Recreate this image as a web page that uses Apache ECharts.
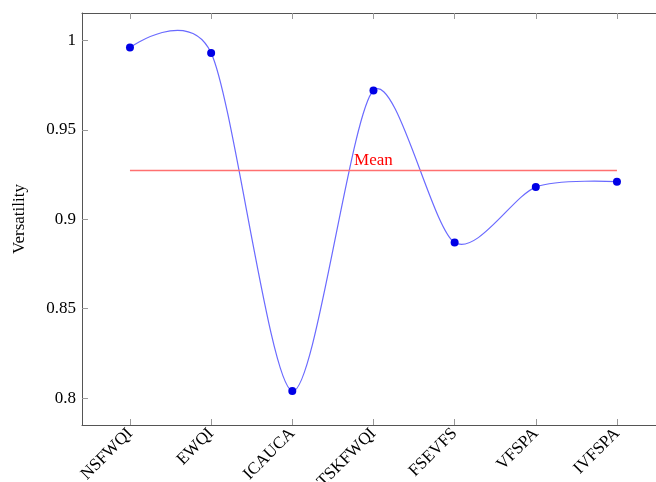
<!DOCTYPE html>
<html>
<head>
<meta charset="utf-8">
<script src="https://cdn.jsdelivr.net/npm/echarts@6/dist/echarts.min.js"></script>
<style>
  html, body { margin: 0; padding: 0; background: #fff; }
  #chart { width: 656px; height: 482px; }
</style>
</head>
<body>
<div id="chart"></div>
<script>
// Versatility score of each water quality index
const categories = ['NSFWQI', 'EWQI', 'ICAUCA', 'TSKFWQI', 'FSEVFS', 'VFSPA', 'IVFSPA'];
const versatility = [0.996, 0.993, 0.804, 0.972, 0.887, 0.918, 0.921];
const yTicks = [0.8, 0.85, 0.9, 0.95, 1];

const meanValue = versatility.reduce((a, b) => a + b, 0) / versatility.length;
const positions = categories.map((_, i) => i);
const points = versatility.map((v, i) => [i, v]);

// spline tension, applied in pixel space like a TikZ smooth plot
const TENSION = 0.1375;

const serif = '"Liberation Serif", "DejaVu Serif", serif';
const chart = echarts.init(document.getElementById('chart'), null, { renderer: 'canvas' });

const xBase = {
  type: 'value',
  min: -0.591,
  max: 6.481,
  splitLine: { show: false },
  axisLine: { show: true, onZero: false, lineStyle: { color: '#555', width: 1 } },
  axisTick: { show: true, inside: true, length: 6, customValues: positions, lineStyle: { color: '#999' } }
};

// one cubic segment from point i to point i + 1
function renderSegment(params, api) {
  const i = params.dataIndex;
  const n = points.length;
  if (i >= n - 1) return null;
  const p = k => api.coord(points[Math.max(0, Math.min(n - 1, k))]);
  const p0 = p(i - 1), p1 = p(i), p2 = p(i + 1), p3 = p(i + 2);
  const c1 = i === 0 ? p1 : [p1[0] + TENSION * (p2[0] - p0[0]), p1[1] + TENSION * (p2[1] - p0[1])];
  const c2 = i + 1 === n - 1 ? p2 : [p2[0] - TENSION * (p3[0] - p1[0]), p2[1] - TENSION * (p3[1] - p1[1])];
  return {
    type: 'bezierCurve',
    shape: { x1: p1[0], y1: p1[1], cpx1: c1[0], cpy1: c1[1], cpx2: c2[0], cpy2: c2[1], x2: p2[0], y2: p2[1] },
    style: { stroke: '#6a6aff', lineWidth: 1.2, fill: null }
  };
}

chart.setOption({
  animation: false,
  grid: { left: 82, right: 0, top: 13, bottom: 57, containLabel: false, outerBoundsMode: 'none' },
  xAxis: [
    Object.assign({}, xBase, {
      position: 'bottom',
      axisLabel: {
        customValues: positions,
        rotate: 45,
        margin: 6,
        fontFamily: serif,
        fontSize: 17,
        color: '#000',
        formatter: v => categories[Math.round(v)]
      }
    }),
    Object.assign({}, xBase, {
      position: 'top',
      axisLabel: { show: false }
    })
  ],
  yAxis: {
    type: 'value',
    min: 0.785,
    max: 1.0153,
    name: 'Versatility',
    nameLocation: 'middle',
    nameRotate: 90,
    nameGap: 54,
    nameTextStyle: { fontFamily: serif, fontSize: 17, color: '#000' },
    splitLine: { show: false },
    axisLine: { show: true, onZero: false, lineStyle: { color: '#555', width: 1 } },
    axisTick: { show: true, inside: true, length: 6, customValues: yTicks, lineStyle: { color: '#999' } },
    axisLabel: {
      customValues: yTicks,
      margin: 6,
      fontFamily: serif,
      fontSize: 17,
      color: '#000',
      formatter: v => String(Math.round(v * 100) / 100)
    }
  },
  series: [
    {
      type: 'custom',
      renderItem: renderSegment,
      data: points,
      silent: true,
      z: 2,
      markLine: {
        silent: true,
        symbol: ['none', 'none'],
        lineStyle: { color: '#ff7070', width: 1.3, type: 'solid' },
        label: {
          show: true,
          position: 'middle',
          formatter: 'Mean',
          color: '#ff0000',
          fontFamily: serif,
          fontSize: 17,
          distance: 1
        },
        data: [[{ coord: [0, meanValue] }, { coord: [6, meanValue] }]]
      }
    },
    {
      type: 'scatter',
      data: points,
      symbol: 'circle',
      symbolSize: 8,
      itemStyle: { color: '#0000e6', opacity: 1 },
      z: 3
    }
  ]
});
</script>
</body>
</html>
